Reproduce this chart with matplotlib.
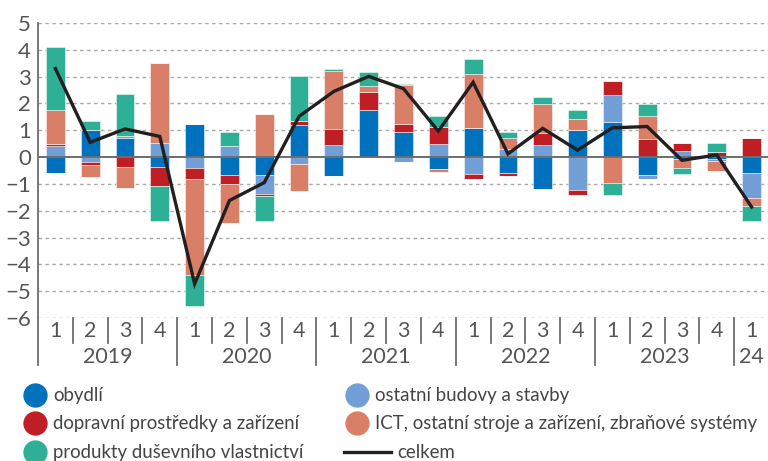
import numpy as np
import matplotlib
matplotlib.use("Agg")
import matplotlib.pyplot as plt
from matplotlib.lines import Line2D

plt.rcParams['font.family'] = ['Lato', 'DejaVu Sans']

# data, quarters 2019Q1 .. 2024Q1
years = ["2019", "2020", "2021", "2022", "2023", "24"]
quarter_labels = ["1", "2", "3", "4"] * 5 + ["1"]

obydli = [-0.60, 1.02, 0.72, -0.37, 1.24, -0.67, -0.65, 1.21, -0.72, 1.77, 0.93,
          -0.46, 1.08, -0.61, -1.18, 1.00, 1.29, -0.67, -0.06, -0.08, -0.60]
ostatni_budovy = [0.40, -0.17, 0.06, 0.53, -0.42, 0.40, -0.73, -0.26, 0.44, 0.0, -0.20,
                  0.49, -0.62, 0.29, 0.45, -1.22, 1.01, -0.16, 0.21, -0.06, -0.92]
doprava = [0.07, -0.13, -0.38, -0.72, -0.41, -0.32, -0.07, 0.14, 0.61, 0.66, 0.30,
           0.63, -0.19, -0.11, 0.45, -0.21, 0.55, 0.68, 0.31, 0.20, 0.70]
ict = [1.29, -0.45, -0.77, 2.99, -3.56, -1.46, 1.59, -1.02, 2.15, 0.23, 1.46,
       -0.10, 2.03, 0.43, 1.07, 0.42, -0.96, 0.85, -0.34, -0.37, -0.30]
dusevni = [2.33, 0.33, 1.58, -1.30, -1.18, 0.53, -0.94, 1.67, 0.08, 0.51, 0.05,
           0.40, 0.56, 0.20, 0.28, 0.35, -0.46, 0.45, -0.22, 0.31, -0.57]
celkem = [3.30, 0.55, 1.05, 0.77, -4.73, -1.62, -0.95, 1.52, 2.45, 3.01, 2.55,
          0.97, 2.79, 0.12, 1.07, 0.26, 1.09, 1.14, -0.12, 0.08, -1.86]

series = [obydli, ostatni_budovy, doprava, ict, dusevni]
labels = ["obydlí", "ostatní budovy a stavby", "dopravní prostředky a zařízení",
          "ICT, ostatní stroje a zařízení, zbraňové systémy",
          "produkty duševního vlastnictví"]
colors = ["#0071bc", "#719fd6", "#bf1e24", "#da7f67", "#2db096"]

fig = plt.figure(figsize=(7.68, 4.61), dpi=100)
ax = fig.add_axes([38 / 768, 143 / 461, 731 / 768, 295 / 461])

x = np.arange(len(celkem))
pos_base = np.zeros(len(x))
neg_base = np.zeros(len(x))
for vals, c in zip(series, colors):
    v = np.array(vals)
    p = np.where(v > 0, v, 0)
    n = np.where(v < 0, v, 0)
    ax.bar(x, p, 0.54, bottom=pos_base, color=c, edgecolor=(1, 1, 1, 0.5), linewidth=0.7, zorder=2)
    ax.bar(x, n, 0.54, bottom=neg_base, color=c, edgecolor=(1, 1, 1, 0.5), linewidth=0.7, zorder=2)
    pos_base += p
    neg_base += n

ax.plot(x, celkem, color="#231f20", lw=2.4, zorder=4, solid_joinstyle="miter")

ax.set_xlim(-0.5, len(x) - 0.5)
ax.set_ylim(-6, 5)
ax.set_yticks(range(-6, 6))
for yv in range(-6, 6):
    if yv != 0:
        ax.axhline(yv, color="#a8a8a8", lw=1.0, ls=(0, (2.5, 2.5)), zorder=1)
ax.axhline(0, color="#6d6d6d", lw=1.4, zorder=3)
ax.tick_params(axis="y", length=0, labelsize=16, labelcolor="#555555", pad=5)
ax.set_xticks([])
for s in ["top", "right", "bottom", "left"]:
    ax.spines[s].set_visible(False)

# category axis: quarter and year separators
tr = ax.get_xaxis_transform()
for i in range(len(x)):
    edge = i - 0.5
    year_edge = (i % 4 == 0)
    ax.plot([edge, edge], [1.0 if i == 0 else 0, -0.159 if year_edge else -0.085],
            transform=tr, color="#6d6d6d", lw=1.3, clip_on=False, zorder=3)
for i, q in enumerate(quarter_labels):
    ax.text(i, -0.044, q, transform=tr, ha="center", va="center",
            fontsize=15.5, color="#555555")
for k, yr in enumerate(years):
    start = k * 4 - 0.5
    end = min(start + 4, len(x) - 0.5)
    ax.text((start + end) / 2, -0.131, yr, transform=tr, ha="center", va="center",
            fontsize=15.5, color="#555555")

# legend
W, H = 768, 461
leg_items = [(0, 35, 0), (1, 357, 0), (2, 35, 1), (3, 357, 1), (4, 35, 2)]
rows = [395, 423, 452]
for idx, px, r in leg_items:
    fig.add_artist(Line2D([px / W], [1 - rows[r] / H], marker="o", markersize=16.5,
                          color=colors[idx], linestyle="none", transform=fig.transFigure))
    fig.text((px + 18) / W, 1 - rows[r] / H, labels[idx], ha="left", va="center",
             fontsize=13.4, color="#444444")
fig.add_artist(Line2D([344 / W, 391 / W], [1 - 452 / H] * 2, color="#231f20", lw=2.4,
                      transform=fig.transFigure))
fig.text(397 / W, 1 - 452 / H, "celkem", ha="left", va="center", fontsize=13.4, color="#444444")

fig.savefig("out.png", dpi=100)
